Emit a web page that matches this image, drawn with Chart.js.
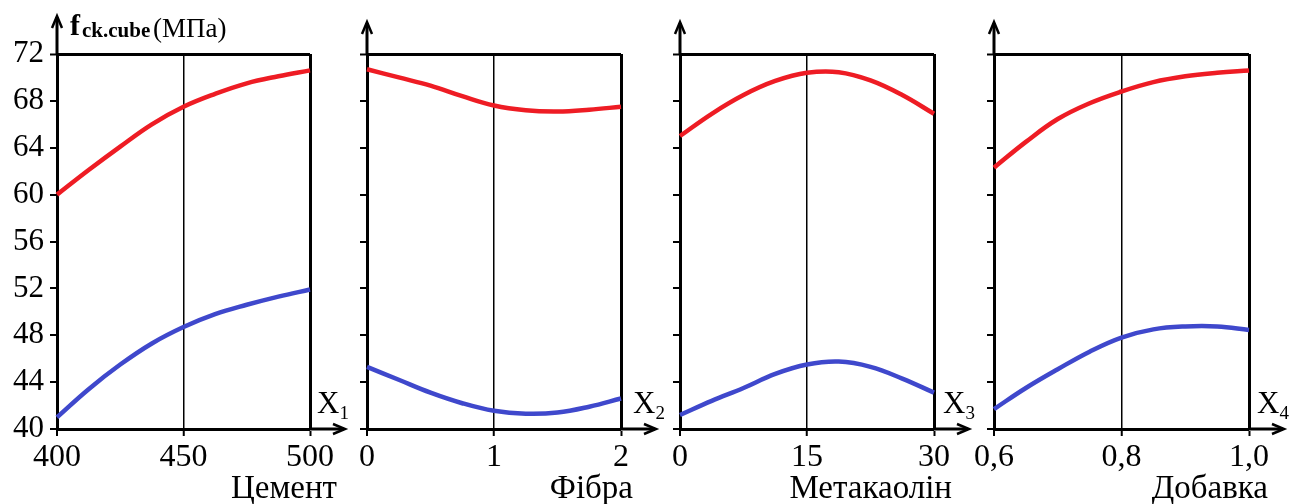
<!DOCTYPE html>
<html>
<head>
<meta charset="utf-8">
<script src="https://cdn.jsdelivr.net/npm/chart.js@4.4.1/dist/chart.umd.min.js"></script>
<style>
html,body{margin:0;padding:0;background:#fff;}
#wrap{position:relative;width:1303px;height:504px;overflow:hidden;}
canvas{position:absolute;left:0;top:0;}
</style>
</head>
<body>
<div id="wrap">
<canvas id="c1" width="1303" height="504"></canvas>
<canvas id="c2" width="1303" height="504"></canvas>
<canvas id="c3" width="1303" height="504"></canvas>
<canvas id="c4" width="1303" height="504"></canvas>
</div>
<script>
// ---- data ----
const categories = ['Цемент', 'Фібра', 'Метакаолін', 'Добавка'];
const axisIndex = ['1', '2', '3', '4'];
const yTitleMain = 'f';
const yTitleSub = 'ck.cube';
const yTitleUnit = '(МПа)';
const yTickValues = [40, 44, 48, 52, 56, 60, 64, 68, 72];

const xTicks1 = [400, 450, 500];
const xTicks2 = [0, 1, 2];
const xTicks3 = [0, 15, 30];
const xTicks4 = [0.6, 0.8, 1.0];
const xTickLabels1 = ['400', '450', '500'];
const xTickLabels2 = ['0', '1', '2'];
const xTickLabels3 = ['0', '15', '30'];
const xTickLabels4 = ['0,6', '0,8', '1,0'];

const xCement = [400, 412.5, 425, 437.5, 450, 462.5, 475, 487.5, 500];
const redCement = [60.0, 62.1, 64.1, 66.0, 67.5, 68.6, 69.5, 70.1, 70.6];
const blueCement = [41.0, 43.4, 45.5, 47.3, 48.7, 49.8, 50.6, 51.3, 51.9];

const xFibre = [0, 0.25, 0.5, 0.75, 1, 1.25, 1.5, 1.75, 2];
const redFibre = [70.7, 70.0, 69.3, 68.4, 67.6, 67.2, 67.1, 67.25, 67.5];
const blueFibre = [45.3, 44.2, 43.1, 42.2, 41.55, 41.3, 41.4, 41.9, 42.6];

const xMeta = [0, 3.75, 7.5, 11.25, 15, 18.75, 22.5, 26.25, 30];
const redMeta = [65.0, 66.9, 68.5, 69.7, 70.4, 70.45, 69.75, 68.5, 66.9];
const blueMeta = [41.2, 42.4, 43.5, 44.7, 45.5, 45.75, 45.3, 44.3, 43.1];

const xAdd = [0.6, 0.65, 0.7, 0.75, 0.8, 0.85, 0.9, 0.95, 1.0];
const redAdd = [62.3, 64.5, 66.45, 67.8, 68.8, 69.6, 70.1, 70.4, 70.6];
const blueAdd = [41.7, 43.5, 45.1, 46.6, 47.8, 48.5, 48.75, 48.75, 48.45];

// ---- layout / style ----
const W = 1303, H = 504;
const TOP = 54, BOTTOM = 429;
const FONT = "'Liberation Serif', 'Times New Roman', serif";
const RED = '#ee1c24';
const BLUE = '#3f48cc';

const panels = [
  {id: 'c1', left: 57, right: 310, xs: xCement, red: redCement, blue: blueCement, ticks: xTicks1, labels: xTickLabels1, cat: 0, yLabels: true, yTip: 15, catOff: 27, xOff: 7},
  {id: 'c2', left: 367, right: 621, xs: xFibre, red: redFibre, blue: blueFibre, ticks: xTicks2, labels: xTickLabels2, cat: 1, yLabels: false, yTip: 21, catOff: 12, xOff: 12},
  {id: 'c3', left: 680, right: 934, xs: xMeta, red: redMeta, blue: blueMeta, ticks: xTicks3, labels: xTickLabels3, cat: 2, yLabels: false, yTip: 21, catOff: 18, xOff: 9},
  {id: 'c4', left: 994, right: 1249, xs: xAdd, red: redAdd, blue: blueAdd, ticks: xTicks4, labels: xTickLabels4, cat: 3, yLabels: false, yTip: 21, catOff: 19, xOff: 8}
];

const decor = {
  id: 'decor',
  afterDraw(chart, args, o) {
    const ctx = chart.ctx, a = chart.chartArea;
    ctx.save();
    ctx.strokeStyle = '#000';
    ctx.fillStyle = '#000';
    ctx.lineWidth = 3;
    ctx.lineJoin = 'miter';
    // y axis extension + arrow
    ctx.beginPath();
    ctx.moveTo(a.left, a.top);
    ctx.lineTo(a.left, o.yTip + 2);
    ctx.stroke();
    ctx.lineWidth = 2.5;
    ctx.beginPath();
    ctx.moveTo(a.left - 5, o.yTip + 13);
    ctx.lineTo(a.left, o.yTip + 1);
    ctx.lineTo(a.left + 5, o.yTip + 13);
    ctx.stroke();
    // x axis extension + arrow
    const tipX = a.right + 36;
    ctx.lineWidth = 3;
    ctx.beginPath();
    ctx.moveTo(a.right, a.bottom);
    ctx.lineTo(tipX - 2, a.bottom);
    ctx.stroke();
    ctx.lineWidth = 2.5;
    ctx.beginPath();
    ctx.moveTo(tipX - 13, a.bottom - 5);
    ctx.lineTo(tipX - 1, a.bottom);
    ctx.lineTo(tipX - 13, a.bottom + 5);
    ctx.stroke();
    // X_i label
    ctx.textBaseline = 'alphabetic';
    ctx.textAlign = 'left';
    ctx.font = '31px ' + FONT;
    const xx = a.right + o.xOff;
    ctx.fillText('X', xx, 413);
    const wX = ctx.measureText('X').width;
    ctx.font = '19px ' + FONT;
    ctx.fillText(o.sub, xx + wX, 419);
    // category name
    ctx.font = '33px ' + FONT;
    ctx.textAlign = 'right';
    ctx.fillText(o.cat, a.right + o.catOff, 498);
    // y title
    if (o.yTitle) {
      ctx.textAlign = 'left';
      ctx.font = 'bold 30px ' + FONT;
      ctx.fillText(yTitleMain, 70, 35);
      ctx.font = 'bold 21px ' + FONT;
      ctx.fillText(yTitleSub, 82, 37);
      ctx.font = '27px ' + FONT;
      ctx.fillText(yTitleUnit, 153, 37);
    }
    ctx.restore();
  }
};

panels.forEach(p => {
  const mk = (ys) => p.xs.map((x, i) => ({x: x, y: ys[i]}));
  const yW = p.yLabels ? p.left : 20;
  const xH = H - BOTTOM;
  new Chart(document.getElementById(p.id), {
    type: 'line',
    data: {
      datasets: [
        {data: mk(p.red), borderColor: RED, borderWidth: 4.5, pointRadius: 0, tension: 0.4, fill: false, clip: false},
        {data: mk(p.blue), borderColor: BLUE, borderWidth: 4.5, pointRadius: 0, tension: 0.4, fill: false, clip: false}
      ]
    },
    options: {
      responsive: false,
      animation: false,
      devicePixelRatio: 1,
      events: [],
      layout: {padding: {left: p.left - yW, right: W - p.right, top: TOP, bottom: 0}},
      plugins: {
        legend: {display: false},
        tooltip: {enabled: false},
        decor: {yTip: p.yTip, xOff: p.xOff, catOff: p.catOff, sub: axisIndex[p.cat], cat: categories[p.cat], yTitle: p.yLabels}
      },
      scales: {
        x: {
          type: 'linear',
          min: p.ticks[0],
          max: p.ticks[p.ticks.length - 1],
          afterBuildTicks: (s) => { s.ticks = p.ticks.map(v => ({value: v})); },
          afterFit: (s) => { s.height = xH; },
          ticks: {
            autoSkip: false,
            maxRotation: 0,
            minRotation: 0,
            padding: 2,
            color: '#000',
            font: {family: FONT, size: 32},
            callback: (v, i) => p.labels[i]
          },
          grid: {
            color: '#000',
            drawOnChartArea: true,
            lineWidth: (c) => c.index === 1 ? 1.5 : (c.index === 2 ? 3 : 0),
            tickLength: 7,
            tickWidth: 2,
            tickColor: '#000'
          },
          border: {display: true, color: '#000', width: 3}
        },
        y: {
          type: 'linear',
          min: 40,
          max: 72,
          afterBuildTicks: (s) => { s.ticks = yTickValues.map(v => ({value: v})); },
          afterFit: (s) => { s.width = yW; },
          ticks: {
            padding: 6,
            color: '#000',
            font: {family: FONT, size: 31},
            callback: (v) => p.yLabels ? String(v) : ''
          },
          grid: {
            color: '#000',
            drawOnChartArea: true,
            lineWidth: (c) => (c.tick && c.tick.value === 72) ? 3 : 0,
            tickLength: 7,
            tickWidth: 2,
            tickColor: '#000'
          },
          border: {display: true, color: '#000', width: 3}
        }
      }
    },
    plugins: [decor]
  });
});
</script>
</body>
</html>
